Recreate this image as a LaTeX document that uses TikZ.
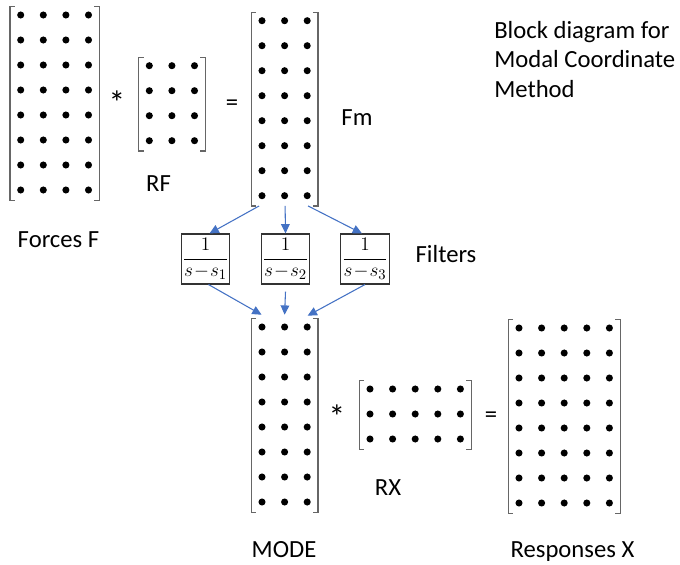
\documentclass[tikz,border=0pt]{standalone}
\usepackage{fontspec}
\setmainfont{Carlito}
\usetikzlibrary{calc,fit,arrows.meta}
\definecolor{arrblue}{HTML}{4472C4}
\tikzset{
  lbl/.style={font=\fontsize{18.5}{22}\selectfont, inner sep=0pt},
  oplbl/.style={font=\fontsize{25}{28}\selectfont, inner sep=0pt},
  brk/.style={draw=black!60, line width=0.9pt},
  filterbox/.style={draw=black!80, line width=0.8pt, minimum width=33pt, minimum height=37.5pt, inner sep=1pt, fill=white},
  flow/.style={draw=arrblue, line width=0.8pt, -{Triangle[length=7pt,width=6.5pt]}}
}
\newcommand{\dotmat}[5]{%
  \pgfmathsetmacro\mxa{#2-10.5}\pgfmathsetmacro\mya{#3-8}%
  \pgfmathsetmacro\mxb{#2+(#4-1)*22.6+10.5}\pgfmathsetmacro\myb{#3+(#5-1)*25+10}%
  \coordinate (#1-nw) at (\mxa,\mya);
  \coordinate (#1-se) at (\mxb,\myb);
  \node[fit=(#1-nw)(#1-se), inner sep=0pt] (#1) {};
  \draw[brk] ($(#1.north west)+(5,0)$) -- (#1.north west) -- (#1.south west) -- ++(5,0);
  \draw[brk] ($(#1.north east)+(-5,0)$) -- (#1.north east) -- (#1.south east) -- ++(-5,0);
  \foreach \i in {1,...,#4}{\foreach \j in {1,...,#5}{%
    \fill ({#2+(\i-1)*22.6},{#3+(\j-1)*25}) circle (2.65pt);}}%
}
\begin{document}
\begin{tikzpicture}[x=0.75pt,y=-0.75pt]
\useasboundingbox (0,0) rectangle (680,564);
% matrices
\dotmat{F}{20.7}{15}{4}{8}
\dotmat{RF}{149.3}{65.7}{3}{4}
\dotmat{Fm}{262}{20.7}{3}{8}
\dotmat{MODE}{262}{327}{3}{8}
\dotmat{RX}{370}{389}{5}{3}
\dotmat{X}{519}{328}{5}{8}
% operators
\node[oplbl, anchor=base] (op1) at (117,114) {*};
\node[lbl] (eq1) at (232,105) {=};
\node[oplbl, anchor=base] (op2) at (337,428) {*};
\node[lbl] (eq2) at (491,417) {=};
% labels
\node[lbl, anchor=base] (lF) at (58.5,247.3) {Forces F};
\node[lbl, anchor=base] (lRF) at (158.5,191.7) {RF};
\node[lbl, anchor=base] (lFm) at (357,125) {Fm};
\node[lbl, anchor=base] (lFil) at (446,262.7) {Filters};
\node[lbl, anchor=base] (lRX) at (388,495) {RX};
\node[lbl, anchor=base] (lMODE) at (284,557) {MODE};
\node[lbl, anchor=base] (lX) at (572.5,557) {Responses X};
\node[lbl, anchor=base west] (t1) at (494,38.3) {Block diagram for};
\node[lbl, anchor=base west] (t2) at (494,67.5) {Modal Coordinate};
\node[lbl, anchor=base west] (t3) at (494,97) {Method};
% filters
\node[filterbox] (f1) at (205.5,259) {\fontsize{15}{17}\selectfont$\displaystyle\frac{1}{s\!-\!s_1}$};
\node[filterbox] (f2) at (285.5,259) {\fontsize{15}{17}\selectfont$\displaystyle\frac{1}{s\!-\!s_2}$};
\node[filterbox] (f3) at (365,259) {\fontsize{15}{17}\selectfont$\displaystyle\frac{1}{s\!-\!s_3}$};
% arrows
\draw[flow] ($(Fm.south)+(-25.5,0)$) -- ($(f1.north)+(4,0)$);
\draw[flow] ($(Fm.south)+(0.5,0)$) -- (f2.north);
\draw[flow] ($(Fm.south)+(23.5,0)$) -- ($(f3.north)+(-3,0)$);
\draw[flow] ($(f1.south)+(3,0)$) -- ($(MODE.north)+(-23,-4)$);
\draw[flow] ($(f2.south)+(0,7)$) -- ($(MODE.north)+(0,-4)$);
\draw[flow] (f3.south) -- ($(MODE.north)+(23,-3)$);
\end{tikzpicture}
\end{document}
